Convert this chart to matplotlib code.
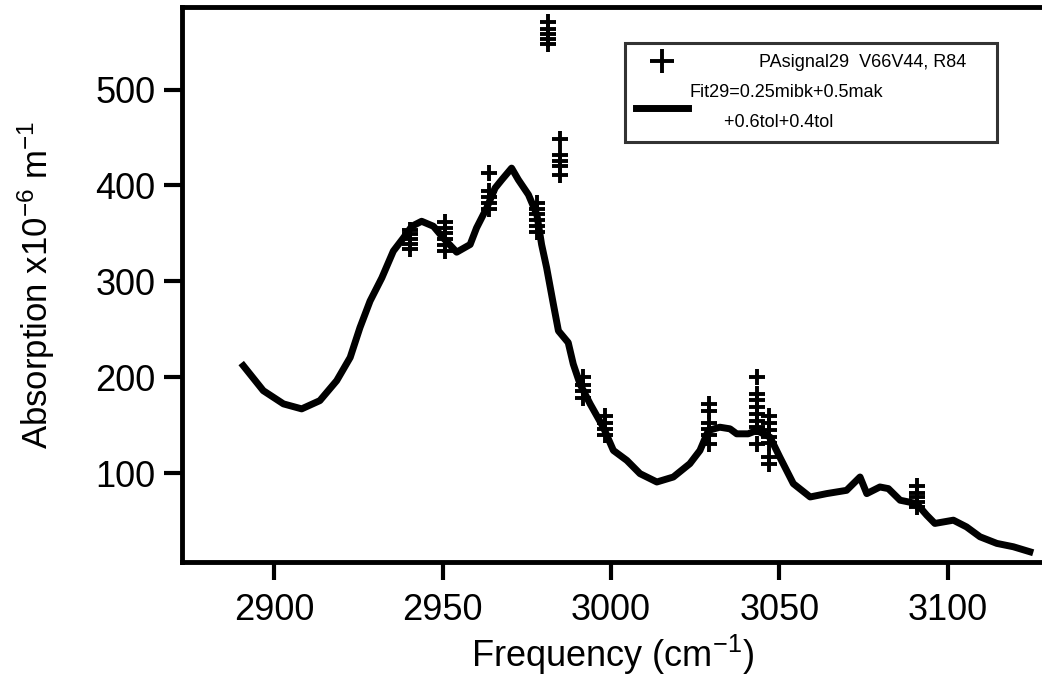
import matplotlib.pyplot as plt

plt.rcParams['font.family'] = ['Liberation Sans', 'DejaVu Sans']
plt.rcParams['mathtext.fontset'] = 'custom'
plt.rcParams['mathtext.rm'] = 'Liberation Sans'
plt.rcParams['mathtext.it'] = 'Liberation Sans:italic'

# fit curve (Fit29)
fit_x = [2890.9, 2896.8, 2902.8, 2908.2, 2913.6, 2918.6, 2922.6, 2925.5, 2928.5, 2932.0,
         2935.4, 2938.4, 2940.9, 2943.8, 2947.3, 2950.2, 2954.2, 2958.2, 2960.1, 2963.1,
         2965.6, 2967.6, 2970.5, 2972.5, 2975.5, 2978.0, 2979.4, 2980.9, 2982.9, 2984.4,
         2987.3, 2988.8, 2990.8, 2993.8, 2997.7, 3000.7, 3004.7, 3008.6, 3013.6, 3018.5,
         3023.4, 3026.4, 3028.9, 3032.3, 3035.3, 3037.3, 3040.7, 3043.2, 3047.2, 3050.1,
         3054.1, 3059.1, 3064.0, 3069.9, 3073.9, 3075.9, 3079.8, 3082.3, 3085.8, 3090.7,
         3093.7, 3096.1, 3101.6, 3105.5, 3109.5, 3114.5, 3119.4, 3124.3]
fit_y = [212.1, 186.2, 172.4, 167.2, 175.8, 196.6, 220.8, 251.9, 279.6, 303.8,
         331.6, 345.4, 357.5, 362.7, 357.5, 345.4, 330.5, 338.5, 355.8, 376.5,
         397.3, 406.0, 418.1, 406.0, 390.4, 369.7, 338.5, 314.2, 276.2, 248.5,
         236.3, 213.9, 193.1, 172.4, 148.1, 123.9, 113.5, 99.7, 91.0, 96.2,
         110.1, 123.9, 144.7, 148.1, 146.4, 141.2, 141.2, 144.7, 137.7, 116.9,
         89.3, 75.4, 78.9, 82.3, 96.2, 78.9, 85.8, 84.1, 72.0, 68.5,
         56.4, 47.8, 51.2, 44.2, 33.9, 27.0, 23.5, 18.3]

# measured signal (PAsignal29), clusters of points
sig_x = [2940.4] * 5 + [2950.6] * 6 + [2963.8] * 5 + [2978.0] * 6 + [2981.3] * 5 \
    + [2984.9] * 5 + [2991.6] * 4 + [2998.2] * 4 + [3029.2] * 6 + [3043.2] * 8 \
    + [3046.8] * 7 + [3090.7] * 5
sig_y = [334, 339, 344, 349, 354,
         332, 338, 344, 350, 356, 362,
         376, 382, 388, 394, 413,
         352, 358, 364, 370, 376, 382,
         547, 553, 558, 563, 570,
         411, 420, 426, 432, 448,
         179, 186, 192, 200,
         140, 146, 152, 160,
         131, 140, 146, 152, 165, 172,
         131, 148, 155, 162, 169, 176, 183, 200,
         110, 117, 132, 138, 145, 152, 160,
         65, 70, 75, 80, 87]

fig = plt.figure(figsize=(10.42, 6.8), dpi=100)
ax = fig.add_axes([0.1747, 0.1735, 0.8253, 0.8162])

ax.plot(sig_x, sig_y, ls='none', marker='+', ms=12, mew=2.8, c='black',
        label=' ' * 14 + 'PAsignal29  V66V44, R84    ')
ax.plot(fit_x, fit_y, lw=5, c='black', solid_joinstyle='round',
        label='Fit29=0.25mibk+0.5mak\n' + ' ' * 7 + '+0.6tol+0.4tol')

ax.set_xlim(2872.7, 3127.9)
ax.set_ylim(7.6, 586)
ax.set_xticks([2900, 2950, 3000, 3050, 3100])
ax.set_yticks([100, 200, 300, 400, 500])

for side in ['left', 'bottom', 'top']:
    ax.spines[side].set_linewidth(3.5)
ax.spines['right'].set_visible(False)
ax.tick_params(direction='out', length=13, width=3, labelsize=26, pad=6)
ax.tick_params(axis='x', pad=9)

ax.set_xlabel('Frequency (cm$^{-1}$)', fontsize=26, labelpad=4)
ax.set_ylabel('Absorption x10$^{-6}$ m$^{-1}$', fontsize=25, labelpad=28)

leg = ax.legend(loc='upper left', bbox_to_anchor=(0.515, 0.935), fontsize=13,
                frameon=True, fancybox=False, edgecolor='black', handlelength=2.9,
                handletextpad=0.05, borderpad=0.6, labelspacing=0.75, borderaxespad=0,
                markerscale=1.4)
leg.get_frame().set_linewidth(2.2)
for t in leg.get_texts():
    t.set_linespacing(2.0)

fig.savefig('out.png', dpi=100)
